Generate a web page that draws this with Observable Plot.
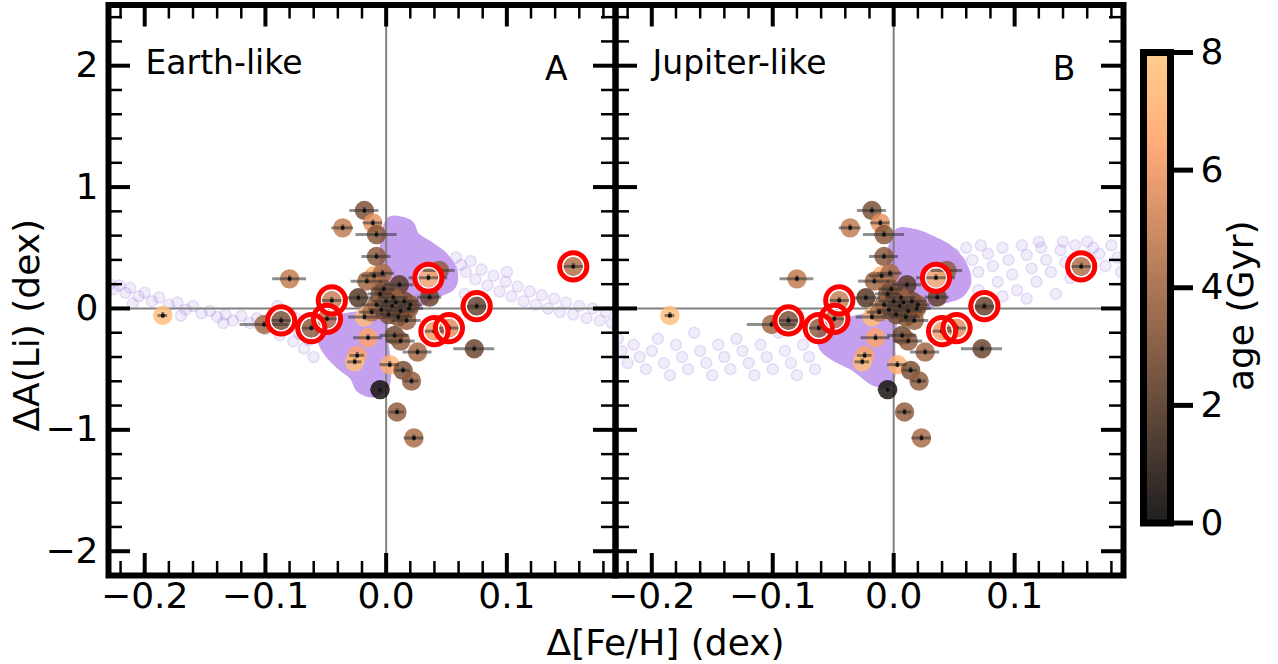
<!DOCTYPE html>
<html><head><meta charset="utf-8">
<script src="https://cdn.jsdelivr.net/npm/d3@7"></script>
<script src="https://cdn.jsdelivr.net/npm/@observablehq/plot@0.6"></script>
<style>
body{margin:0;background:#fff;}
#fig{position:relative;width:1278px;height:664px;overflow:hidden;font-family:"DejaVu Sans",sans-serif;}
#fig > svg{position:absolute;left:0;top:0;}
</style></head><body><div id="fig"></div>
<script>
// ---------------- data ----------------
const starFeH = [-0.018,-0.011,-0.036,-0.008,-0.008,-0.080,0.044,0.035,0.011,-0.010,-0.003,-0.016,-0.023,-0.045,0.036,0.075,-0.087,-0.101,-0.062,-0.049,0.040,0.052,-0.018,-0.015,0.073,0.026,-0.024,-0.026,0.003,0.014,0.021,-0.005,0.009,0.023,0.007,0.012,0.019,0.017,0.155,-0.185,-0.005,0.000,0.005,-0.004,0.008,0.012,-0.008,0.002,0.015,-0.012,0.006,0.010,-0.002,0.020];
const starDLi = [0.807,0.705,0.664,0.609,0.428,0.244,0.313,0.253,0.195,0.270,0.290,0.225,0.088,0.066,0.093,0.019,-0.099,-0.132,-0.162,-0.085,-0.187,-0.162,-0.071,-0.241,-0.332,-0.359,-0.387,-0.440,-0.463,-0.510,-0.598,-0.669,-0.853,-1.067,-0.222,-0.269,0.000,-0.099,0.346,-0.058,0.120,0.060,0.020,-0.010,0.050,-0.020,0.030,-0.050,0.060,-0.030,0.090,-0.070,0.160,0.030];
const starAge = [3.0,5.8,4.8,3.3,3.4,4.8,3.6,7.2,2.2,7.0,4.2,4.0,2.0,5.0,2.5,2.5,3.0,4.0,3.6,4.6,6.2,5.6,7.6,6.6,2.6,4.0,6.6,7.6,7.0,3.0,3.6,0.5,3.6,4.2,2.6,3.6,3.6,3.8,4.4,7.6,3.5,2.0,1.5,2.5,3.0,2.0,3.8,3.0,2.8,4.5,4.0,3.2,3.0,3.5];
const starFeHErr = [0.012,0.008,0.009,0.017,0.012,0.014,0.013,0.016,0.012,0.010,0.010,0.013,0.012,0.012,0.010,0.013,0.012,0.020,0.012,0.012,0.012,0.010,0.013,0.012,0.017,0.012,0.006,0.006,0.008,0.006,0.006,0.008,0.006,0.008,0.012,0.012,0.012,0.012,0.012,0.004,0.010,0.012,0.012,0.010,0.012,0.012,0.012,0.010,0.012,0.010,0.012,0.012,0.010,0.010];
const starDLiErr = 0.025;
const highlighted = [7,13,15,16,18,19,20,21,38];

const earthDenseUpper = [[0.003,0.0],[0.003,0.72],[0.012,0.725],[0.020,0.69],[0.024,0.60],[0.036,0.52],[0.048,0.43],[0.056,0.30],[0.054,0.18],[0.041,0.12],[0.022,0.02]];
const earthDenseLower = [[-0.002,0.0],[-0.002,-0.23],[0.001,-0.48],[-0.001,-0.64],[-0.011,-0.70],[-0.022,-0.66],[-0.027,-0.56],[-0.037,-0.48],[-0.048,-0.37],[-0.054,-0.26],[-0.056,-0.15],[-0.046,-0.10],[-0.033,-0.07],[-0.014,-0.04]];
const earthSparse = [[-0.229,0.20],[-0.226,0.16],[-0.221,0.19],[-0.216,0.13],[-0.212,0.17],[-0.205,0.10],[-0.200,0.13],[-0.194,0.06],[-0.188,0.09],[-0.180,0.03],[-0.173,0.05],[-0.166,-0.01],[-0.160,0.02],[-0.153,-0.04],[-0.146,-0.02],[-0.140,-0.07],[-0.133,-0.05],[-0.127,-0.10],[-0.120,-0.06],[-0.113,-0.12],[-0.107,-0.08],[-0.100,-0.17],[-0.094,-0.13],[-0.088,-0.22],[-0.082,-0.17],[-0.077,-0.27],[-0.072,-0.21],[-0.068,-0.33],[-0.064,-0.26],[-0.060,-0.40],[-0.075,-0.08],[-0.065,-0.12],[-0.210,0.04],[-0.170,-0.06],[-0.135,-0.12],[-0.090,0.02],
 [0.058,0.42],[0.062,0.36],[0.066,0.30],[0.070,0.39],[0.074,0.24],[0.079,0.32],[0.084,0.19],[0.089,0.27],[0.094,0.14],[0.099,0.22],[0.104,0.10],[0.109,0.18],[0.114,0.06],[0.119,0.14],[0.124,0.03],[0.129,0.11],[0.134,0.00],[0.139,0.08],[0.144,-0.03],[0.149,0.05],[0.155,-0.05],[0.160,0.02],[0.166,-0.08],[0.171,0.00],[0.177,-0.10],[0.182,-0.03],[0.187,-0.12],[0.065,0.12],[0.080,0.08],[0.100,0.30]];

const jupDenseUpper = [[0.003,0.01],[0.003,0.62],[0.020,0.615],[0.033,0.56],[0.044,0.505],[0.055,0.395],[0.061,0.23],[0.055,0.12],[0.039,0.066],[0.022,0.01]];
const jupDenseLower = [[-0.002,-0.02],[-0.002,-0.30],[-0.002,-0.56],[-0.005,-0.62],[-0.016,-0.607],[-0.024,-0.551],[-0.0325,-0.483],[-0.049,-0.40],[-0.0587,-0.318],[-0.0587,-0.208],[-0.049,-0.154],[-0.035,-0.099],[-0.016,-0.058]];
const jupSparse = [[0.060,0.50],[0.065,0.40],[0.070,0.30],[0.072,0.52],[0.078,0.45],[0.082,0.35],[0.086,0.22],[0.090,0.50],[0.095,0.40],[0.098,0.28],[0.102,0.15],[0.106,0.52],[0.110,0.44],[0.114,0.33],[0.118,0.22],[0.122,0.50],[0.126,0.40],[0.130,0.30],[0.134,0.12],[0.138,0.48],[0.142,0.38],[0.146,0.25],[0.150,0.52],[0.155,0.42],[0.160,0.30],[0.165,0.50],[0.170,0.45],[0.175,0.35],[0.180,0.52],[0.185,0.42],[0.188,0.30],[0.070,0.15],[0.090,0.10],[0.110,0.08],[0.050,0.45],[0.055,0.38],[0.120,0.55],[0.140,0.55],[0.160,0.55],
 [-0.228,-0.25],[-0.225,-0.35],[-0.220,-0.45],[-0.215,-0.30],[-0.210,-0.40],[-0.205,-0.50],[-0.200,-0.35],[-0.195,-0.25],[-0.190,-0.45],[-0.185,-0.55],[-0.180,-0.30],[-0.175,-0.40],[-0.170,-0.50],[-0.165,-0.20],[-0.160,-0.35],[-0.155,-0.45],[-0.150,-0.55],[-0.145,-0.30],[-0.140,-0.40],[-0.135,-0.50],[-0.130,-0.25],[-0.125,-0.35],[-0.120,-0.45],[-0.115,-0.55],[-0.110,-0.30],[-0.105,-0.40],[-0.100,-0.50],[-0.095,-0.20],[-0.090,-0.35],[-0.085,-0.45],[-0.080,-0.55],[-0.075,-0.30],[-0.070,-0.40],[-0.065,-0.50],[-0.060,-0.25]];

const xMajor = [-0.2,-0.1,0.0,0.1];
const xMinor = [-0.22,-0.18,-0.16,-0.14,-0.12,-0.08,-0.06,-0.04,-0.02,0.02,0.04,0.06,0.08,0.12,0.14,0.16,0.18];
const yMajor = [-2,-1,0,1,2];
const yMinor = [-1.8,-1.6,-1.4,-1.2,-0.8,-0.6,-0.4,-0.2,0.2,0.4,0.6,0.8,1.2,1.4,1.6,1.8,2.2,2.4];
const ageTicks = [0,2,4,6,8];
const panelNames = ["Earth-like","Jupiter-like"];
const panelLetters = ["A","B"];

// ---------------- layout ----------------
const W = 1278, H = 664, TOP = 4.5, BOT = 575;
const copper = {type:"linear", domain:[0,6.4,8], range:["#000000","#ff9f66","#ffc77f"], interpolate:"rgb"};
// same colormap seen through the colorbar's slight transparency
const copperBar = {type:"linear", domain:[0,6.4,8], range:["#1f1f1f","#ffab78","#ffce8e"], interpolate:"rgb"};
const stars = starFeH.map((x,i)=>({x, y:starDLi[i], age:starAge[i], xe:starFeHErr[i], ye:starDLiErr}));
const hl = highlighted.map(i=>stars[i]);
const PURPLE = "#9370db", DENSE = "#c4a0ee";
const fig = document.getElementById("fig");
const baseStyle = {background:"transparent", fontFamily:"DejaVu Sans", overflow:"visible", color:"black"};

function panel(k, left, right, dense, sparse) {
  const innerW = right - left, innerH = BOT - TOP;
  const marks = [
    Plot.dot(sparse, {x:d=>d[0], y:d=>d[1], r:5.5, fill:PURPLE, fillOpacity:0.13, stroke:PURPLE, strokeOpacity:0.2, strokeWidth:1.5, clip:true}),
    ...dense.map(l=>Plot.line(l, {x:d=>d[0], y:d=>d[1], curve:"catmull-rom-closed", fill:DENSE, stroke:DENSE, strokeWidth:8})),
    Plot.ruleX([0], {stroke:"#808080", strokeWidth:2}),
    Plot.ruleY([0], {stroke:"#808080", strokeWidth:2}),
    Plot.dot(stars, {x:"x", y:"y", r:9.7, fill:"age", fillOpacity:0.82}),
    Plot.ruleY(stars, {y:"y", x1:d=>d.x-d.xe, x2:d=>d.x+d.xe, stroke:"#333", strokeOpacity:0.55, strokeWidth:3}),
    Plot.ruleX(stars, {x:"x", y1:d=>d.y-d.ye, y2:d=>d.y+d.ye, stroke:"#333", strokeOpacity:0.55, strokeWidth:3}),
    Plot.dot(stars, {x:"x", y:"y", r:2, fill:"#111"}),
    Plot.dot(hl, {x:"x", y:"y", r:10.6, stroke:"white", strokeWidth:1.6}),
    Plot.dot(hl, {x:"x", y:"y", r:13.6, stroke:"#ff0000", strokeWidth:5}),
    // ticks (inward, four sides)
    Plot.tickX(xMajor, {x:d=>d, stroke:"black", strokeWidth:4, insetTop:innerH-22}),
    Plot.tickX(xMajor, {x:d=>d, stroke:"black", strokeWidth:4, insetBottom:innerH-22}),
    Plot.tickX(xMinor, {x:d=>d, stroke:"black", strokeWidth:2.5, insetTop:innerH-14}),
    Plot.tickX(xMinor, {x:d=>d, stroke:"black", strokeWidth:2.5, insetBottom:innerH-14}),
    Plot.tickY(yMajor, {y:d=>d, stroke:"black", strokeWidth:4, insetRight:innerW-22}),
    Plot.tickY(yMajor, {y:d=>d, stroke:"black", strokeWidth:4, insetLeft:innerW-22}),
    Plot.tickY(yMinor, {y:d=>d, stroke:"black", strokeWidth:2.5, insetRight:innerW-14}),
    Plot.tickY(yMinor, {y:d=>d, stroke:"black", strokeWidth:2.5, insetLeft:innerW-14}),
    Plot.frame({stroke:"black", strokeWidth:6}),
    Plot.axisX(xMajor, {anchor:"bottom", tickSize:0, tickPadding:7, fontSize:36, tickFormat:d3.format(".1f"), label:null}),
    Plot.text([panelNames[k]], {frameAnchor:"top-left", dx:37, dy:58, fontSize:33, textAnchor:"start", lineAnchor:"middle"}),
    Plot.text([panelLetters[k]], {frameAnchor:"top-right", dx:-48, dy:64, fontSize:33, textAnchor:"end", lineAnchor:"middle"})
  ];
  if (k === 0) {
    marks.push(Plot.axisY(yMajor, {anchor:"left", tickSize:0, tickPadding:10, fontSize:36, tickFormat:d3.format("d"), label:null}));
    marks.push(Plot.text(["ΔA(Li) (dex)"], {frameAnchor:"left", dx:-81, dy:35, rotate:-90, fontSize:36, textAnchor:"middle", lineAnchor:"middle"}));
  } else {
    marks.push(Plot.text(["Δ[Fe/H] (dex)"], {frameAnchor:"bottom-left", dx:50, dy:68, fontSize:36, textAnchor:"middle", lineAnchor:"middle"}));
  }
  return Plot.plot({
    width:W, height:H, marginLeft:left, marginRight:W-right, marginTop:TOP, marginBottom:H-BOT,
    x:{domain:[-0.23,0.19]}, y:{domain:[-2.2,2.5], axis: k===0 ? undefined : null},
    color:copper, style:baseStyle, marks
  });
}

fig.appendChild(panel(0, 108, 615, [earthDenseUpper, earthDenseLower], earthSparse));
fig.appendChild(panel(1, 615, 1123, [jupDenseUpper, jupDenseLower], jupSparse));

// colorbar
const cbStep = 0.05;
const cbSlices = d3.range(0, 8, cbStep);
fig.appendChild(Plot.plot({
  width:W, height:H, marginLeft:1143, marginRight:W-1170, marginTop:52, marginBottom:H-522.5,
  x:{domain:[0,1], axis:null}, y:{domain:[0,8]}, color:copperBar, style:baseStyle,
  marks:[
    Plot.rect(cbSlices, {x1:0, x2:1, y1:d=>d, y2:d=>Math.min(8, d+cbStep*1.6), fill:d=>d+cbStep/2}),
    Plot.frame({stroke:"black", strokeWidth:7}),
    Plot.axisY(ageTicks, {anchor:"right", tickSize:22, strokeWidth:5, tickPadding:8, fontSize:36, tickFormat:d3.format("d"), label:null}),
    Plot.text(["age (Gyr)"], {frameAnchor:"right", dx:71, dy:18, rotate:-90, fontSize:36, textAnchor:"middle", lineAnchor:"middle"})
  ]
}));
</script></body></html>
